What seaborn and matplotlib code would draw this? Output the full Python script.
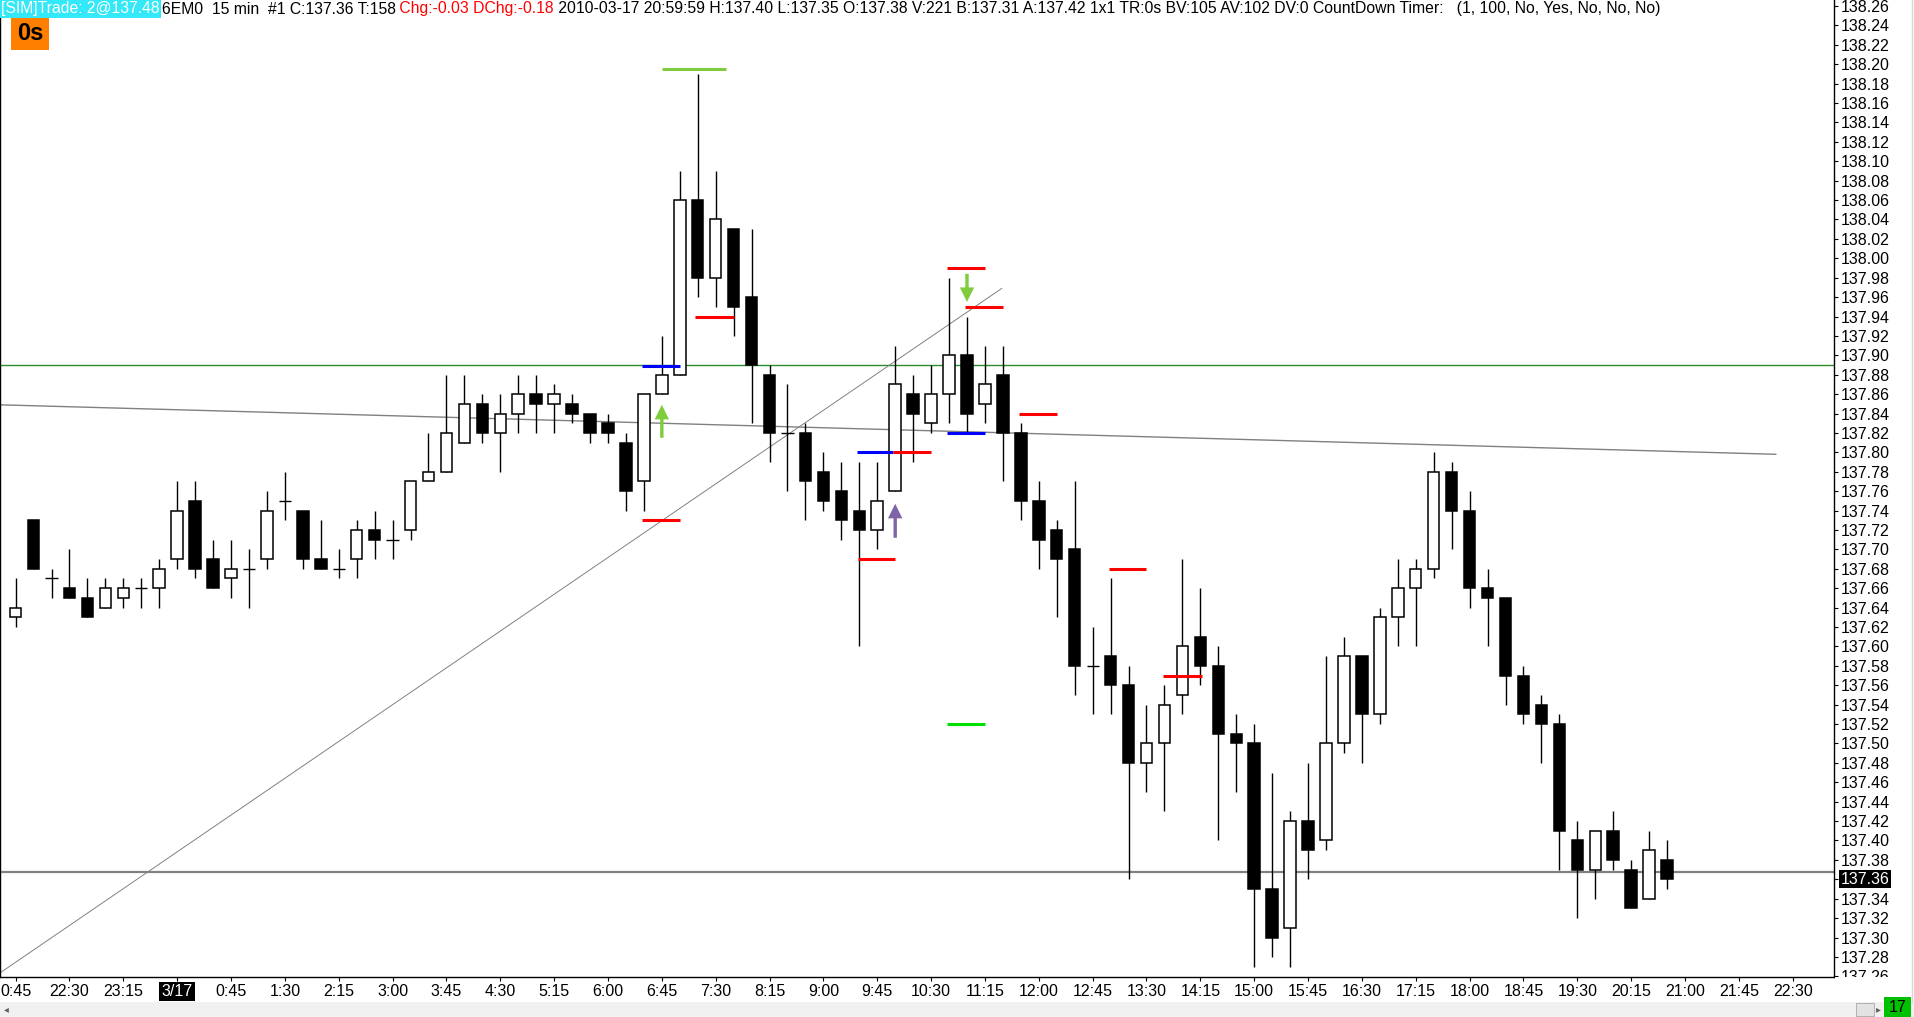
import numpy as np
import pandas as pd
import seaborn as sns
import matplotlib.pyplot as plt
from matplotlib.patches import Rectangle
from matplotlib.lines import Line2D

# 15 min bars of 6EM0, first bar 21:45 (3/16), last bar 20:45 (3/17)
opens = [137.63, 137.73, 137.67, 137.66, 137.65, 137.64, 137.65, 137.66, 137.66, 137.69,
         137.75, 137.69, 137.67, 137.68, 137.69, 137.75, 137.74, 137.69, 137.68, 137.69,
         137.72, 137.71, 137.72, 137.77, 137.78, 137.81, 137.85, 137.82, 137.84, 137.86,
         137.85, 137.85, 137.84, 137.83, 137.81, 137.77, 137.86, 137.88, 138.06, 137.98,
         138.03, 137.96, 137.88, 137.82, 137.82, 137.78, 137.76, 137.74, 137.72, 137.76,
         137.86, 137.83, 137.86, 137.90, 137.85, 137.88, 137.82, 137.75, 137.72, 137.70,
         137.58, 137.59, 137.56, 137.48, 137.50, 137.55, 137.61, 137.58, 137.51, 137.50,
         137.35, 137.31, 137.42, 137.40, 137.50, 137.59, 137.53, 137.63, 137.66, 137.68,
         137.78, 137.74, 137.66, 137.65, 137.57, 137.54, 137.52, 137.40, 137.37, 137.41,
         137.37, 137.34, 137.38]
highs = [137.67, 137.73, 137.68, 137.70, 137.67, 137.67, 137.67, 137.67, 137.69, 137.77,
         137.77, 137.71, 137.71, 137.70, 137.76, 137.78, 137.74, 137.73, 137.70, 137.73,
         137.74, 137.73, 137.77, 137.82, 137.88, 137.88, 137.86, 137.86, 137.88, 137.88,
         137.87, 137.86, 137.84, 137.84, 137.82, 137.86, 137.92, 138.09, 138.19, 138.09,
         138.03, 138.03, 137.89, 137.87, 137.83, 137.80, 137.79, 137.79, 137.79, 137.91,
         137.88, 137.89, 137.98, 137.94, 137.91, 137.91, 137.83, 137.77, 137.73, 137.77,
         137.62, 137.67, 137.58, 137.54, 137.56, 137.69, 137.66, 137.60, 137.53, 137.52,
         137.47, 137.43, 137.48, 137.59, 137.61, 137.59, 137.64, 137.69, 137.69, 137.80,
         137.79, 137.76, 137.68, 137.65, 137.58, 137.55, 137.53, 137.42, 137.41, 137.43,
         137.38, 137.41, 137.40]
lows = [137.62, 137.68, 137.65, 137.65, 137.63, 137.64, 137.64, 137.64, 137.64, 137.68,
        137.67, 137.66, 137.65, 137.64, 137.68, 137.73, 137.68, 137.68, 137.67, 137.67,
        137.69, 137.69, 137.71, 137.77, 137.78, 137.81, 137.81, 137.78, 137.82, 137.82,
        137.82, 137.83, 137.81, 137.81, 137.74, 137.74, 137.86, 137.88, 137.96, 137.95,
        137.92, 137.83, 137.79, 137.76, 137.73, 137.74, 137.71, 137.60, 137.70, 137.76,
        137.79, 137.82, 137.83, 137.82, 137.83, 137.77, 137.73, 137.68, 137.63, 137.55,
        137.53, 137.53, 137.36, 137.45, 137.43, 137.53, 137.56, 137.40, 137.45, 137.27,
        137.28, 137.27, 137.36, 137.39, 137.49, 137.48, 137.52, 137.60, 137.60, 137.67,
        137.70, 137.64, 137.60, 137.54, 137.52, 137.48, 137.37, 137.32, 137.34, 137.37,
        137.33, 137.34, 137.35]
closes = [137.64, 137.68, 137.67, 137.65, 137.63, 137.66, 137.66, 137.66, 137.68, 137.74,
          137.68, 137.66, 137.68, 137.68, 137.74, 137.75, 137.69, 137.68, 137.68, 137.72,
          137.71, 137.71, 137.77, 137.78, 137.82, 137.85, 137.82, 137.84, 137.86, 137.85,
          137.86, 137.84, 137.82, 137.82, 137.76, 137.86, 137.88, 138.06, 137.98, 138.04,
          137.95, 137.89, 137.82, 137.82, 137.77, 137.75, 137.73, 137.72, 137.75, 137.87,
          137.84, 137.86, 137.90, 137.84, 137.87, 137.82, 137.75, 137.71, 137.69, 137.58,
          137.58, 137.56, 137.48, 137.50, 137.54, 137.60, 137.58, 137.51, 137.50, 137.35,
          137.30, 137.42, 137.39, 137.50, 137.59, 137.53, 137.63, 137.66, 137.68, 137.78,
          137.74, 137.66, 137.65, 137.57, 137.53, 137.52, 137.41, 137.37, 137.41, 137.38,
          137.33, 137.39, 137.36]

# time axis labels, one every 3 bars
time_labels = ['0:45', '22:30', '23:15', '3/17', '0:45', '1:30', '2:15', '3:00', '3:45',
               '4:30', '5:15', '6:00', '6:45', '7:30', '8:15', '9:00', '9:45', '10:30',
               '11:15', '12:00', '12:45', '13:30', '14:15', '15:00', '15:45', '16:30',
               '17:15', '18:00', '18:45', '19:30', '20:15', '21:00', '21:45', '22:30']
price_ticks = np.round(np.arange(137.26, 138.27, 0.02), 2)
last_price = 137.36

# entry / stop / target markers (bar from, bar to, price, colour)
mark_from = [36.0, 37.87, 34.87, 34.87, 46.87, 48.88, 46.93, 51.87, 52.87, 51.87, 55.87, 60.9, 51.87, 63.9]
mark_to = [39.6, 40.0, 37.0, 37.0, 48.88, 51.0, 49.0, 54.0, 55.0, 54.0, 58.0, 63.0, 54.0, 66.1]
mark_price = [138.195, 137.94, 137.889, 137.73, 137.80, 137.80, 137.69, 137.99, 137.95, 137.82,
              137.84, 137.68, 137.52, 137.57]
mark_color = ['#80CC40', '#FF0000', '#0000FF', '#FF0000', '#0000FF', '#FF0000', '#FF0000',
              '#FF0000', '#FF0000', '#0000FF', '#FF0000', '#FF0000', '#00E000', '#FF0000']

# signal arrows (bar, tail price, tip price, colour)
arrow_bar = [36, 49, 53]
arrow_from = [137.815, 137.712, 137.984]
arrow_to = [137.849, 137.747, 137.955]
arrow_color = ['#7FCC3F', '#8064A8', '#7FCC3F']

# drawn lines
hline_green = 137.89
hline_last = 137.367
slope_x = [-0.87, 98.07]
slope_y = [137.849, 137.798]
diag_x = [-0.87, 54.94]
diag_y = [137.2635, 137.969]

sns.set_style('white')
plt.rcParams['font.family'] = ['Liberation Sans', 'DejaVu Sans']

W, H = 1914, 1017
fig = plt.figure(figsize=(W / 100, H / 100), dpi=100)
ax = fig.add_axes([0, 40 / H, 1834 / W, 977 / H])

df = pd.DataFrame({'open': opens, 'high': highs, 'low': lows, 'close': closes})
df['bar'] = np.arange(len(df))

# lines behind the candles
ax.axhline(hline_green, color='#2E8B2E', lw=1.0, zorder=1)
ax.axhline(hline_last, color='#808080', lw=1.6, zorder=1)
sns.lineplot(x=slope_x, y=slope_y, ax=ax, color='#808080', lw=1.0, zorder=1)
sns.lineplot(x=diag_x, y=diag_y, ax=ax, color='#808080', lw=0.7, zorder=1)

# candles
ax.vlines(df['bar'], df['low'], df['high'], color='black', lw=1.0, zorder=3)
for _, r in df.iterrows():
    lo, hi = min(r['open'], r['close']), max(r['open'], r['close'])
    if hi - lo < 0.001:
        ax.hlines(r['open'], r['bar'] - 0.34, r['bar'] + 0.34, color='black', lw=1.0, zorder=4)
    else:
        fc = 'white' if r['close'] > r['open'] else 'black'
        ax.add_patch(Rectangle((r['bar'] - 0.32, lo), 0.64, hi - lo, fc=fc, ec='black',
                               lw=1.1, zorder=4))

# markers
for x0, x1, p, c in zip(mark_from, mark_to, mark_price, mark_color):
    ax.hlines(p, x0, x1, color=c, lw=2.2, zorder=5)

for b, p0, p1, c in zip(arrow_bar, arrow_from, arrow_to, arrow_color):
    ax.arrow(b, p0, 0, p1 - p0, width=0.19, head_width=0.8, head_length=0.015,
             length_includes_head=True, color=c, lw=0, zorder=6)

ax.set_xlim(-0.87, 101.3)
ax.set_ylim(137.2593, 138.2662)

ax.set_xticks(np.arange(0, 3 * len(time_labels), 3))
ax.set_xticklabels(time_labels)
ax.yaxis.tick_right()
ax.set_yticks(price_ticks)
ax.set_yticklabels(['%.2f' % v for v in price_ticks])
ax.tick_params(axis='x', bottom=True, length=3, width=0.8, direction='out',
               labelsize=11.5, pad=2, color='black', labelcolor='black')
ax.tick_params(axis='y', right=True, left=False, length=3, width=0.8, direction='out',
               labelsize=11.5, pad=1.5, color='black', labelcolor='black')
ax.set_xlabel('')
ax.set_ylabel('')
ax.grid(False)
ax.spines['top'].set_visible(False)
for s in ['left', 'right', 'bottom']:
    ax.spines[s].set_color('black')
    ax.spines[s].set_linewidth(1.0)
if ax.get_legend():
    ax.get_legend().remove()

lab = ax.get_xticklabels()[3]
lab.set_color('white')
lab.set_bbox(dict(boxstyle='square,pad=0.15', fc='black', ec='none'))

ax.annotate('%.2f' % last_price, xy=(1, last_price), xycoords=ax.get_yaxis_transform(),
            xytext=(4.5, 0), textcoords='offset points', ha='left', va='center',
            fontsize=11.5, color='white',
            bbox=dict(boxstyle='square,pad=0.1', fc='black', ec='none'), zorder=10,
            annotation_clip=False)

# frame bits outside the plot
fig.add_artist(Rectangle((1835 / W, 0), 79 / W, 40 / H, transform=fig.transFigure,
                         fc='white', ec='none', zorder=5))
fig.add_artist(Rectangle((0, 0), 1, 15 / H, transform=fig.transFigure,
                         fc='#F0F0F0', ec='none', zorder=6))
fig.add_artist(Rectangle((1856 / W, 1 / H), 18 / W, 13 / H, transform=fig.transFigure,
                         fc='#E2E2E2', ec='#A8A8A8', lw=0.6, zorder=7))
fig.add_artist(Line2D([1912 / W, 1912 / W], [15 / H, 1], transform=fig.transFigure,
                      color='#D8D8D8', lw=1, zorder=6))
fig.text(6 / W, 8 / H, '\u25c2', fontsize=7, color='#606060', ha='center', va='center',
         family='DejaVu Sans', zorder=8)
fig.text(1878 / W, 8 / H, '\u25b8', fontsize=7, color='#606060', ha='center', va='center',
         family='DejaVu Sans', zorder=8)
fig.add_artist(Rectangle((1884 / W, 0), 27 / W, 20 / H, transform=fig.transFigure,
                         fc='#00C000', ec='none', zorder=8))
fig.text(1898 / W, 10 / H, '17', fontsize=11.5, color='black', ha='center', va='center',
         zorder=9)

# header line
renderer = fig.canvas.get_renderer()
pieces = [('[SIM]Trade: 2@137.48', 'white', '#33E8F8'),
          ('6EM0  15 min  #1 C:137.36 T:158', 'black', None),
          (' Chg:-0.03 DChg:-0.18', '#FF0000', None),
          (' 2010-03-17 20:59:59 H:137.40 L:137.35 O:137.38 V:221 B:137.31 A:137.42 1x1 '
           'TR:0s BV:105 AV:102 DV:0 CountDown Timer:   (1, 100, No, Yes, No, No, No)',
           'black', None)]
xpos = 1.0
for s, col, bg in pieces:
    kw = {}
    if bg:
        kw['bbox'] = dict(boxstyle='square,pad=0.12', fc=bg, ec='none')
    t = fig.text(xpos / W, 1 - 9 / H, s, fontsize=11.35, color=col, ha='left', va='center',
                 zorder=9, **kw)
    xpos += t.get_window_extent(renderer=renderer).width + (2 if bg else 0)

fig.add_artist(Rectangle((11 / W, 1 - 50 / H), 38 / W, 33 / H, transform=fig.transFigure,
                         fc='#FF8000', ec='none', zorder=8))
fig.text(30 / W, 1 - 33 / H, '0s', fontsize=17, fontweight='bold', color='black',
         ha='center', va='center', zorder=9)

fig.savefig('out.png', dpi=100)
